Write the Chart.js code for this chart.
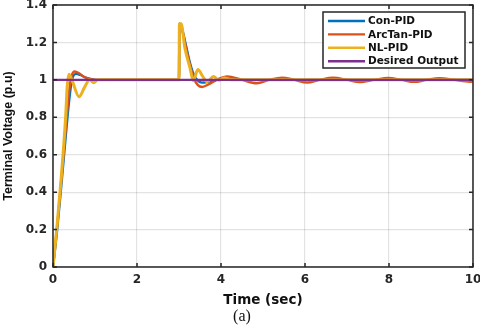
<!DOCTYPE html>
<html lang="en">
<head>
<meta charset="UTF-8">
<title>Terminal Voltage</title>
<script src="https://cdn.jsdelivr.net/npm/chart.js@4.4.1/dist/chart.umd.min.js"></script>
<style>
    body { margin: 0; background: #fff; }
    #wrap { position: relative; width: 480px; height: 330px; }
    #caption { position: absolute; left: 222px; top: 306px; width: 40px; text-align: center;
               font: 16px "Liberation Serif", "Times New Roman", serif; color: #111; line-height: 20px; }
</style>
</head>
<body>
<div id="wrap">
    <canvas id="chart" width="480" height="330"></canvas>
    <div id="caption">(a)</div>
</div>
<script>
// time (sec) and terminal voltage (p.u)
const conTime = [0, 0.1, 0.2, 0.3, 0.38, 0.45, 0.55, 0.65, 0.8, 1.0, 3.0, 3.01, 3.05, 3.15, 3.25, 3.33, 3.45, 3.55, 3.7, 3.9, 10];
const conVolt = [0, 0.2, 0.44, 0.69, 0.88, 1.0, 1.032, 1.026, 1.01, 1.0, 1.0, 1.3, 1.29, 1.2, 1.1, 1.04, 0.995, 0.985, 0.99, 1.0, 1.0];

const arcTime = [0, 0.1, 0.2, 0.3, 0.38, 0.44, 0.52, 0.62, 0.75, 0.9, 1.1, 3.0, 3.01, 3.05, 3.15, 3.25, 3.35, 3.45, 3.55, 3.7, 3.9,
                 4.15, 4.5, 4.85, 5.15, 5.45, 5.75, 6.05, 6.35, 6.67, 7.0, 7.3, 7.65, 7.98, 8.3, 8.6, 8.9, 9.2, 9.55, 9.93, 10];
const arcVolt = [0, 0.22, 0.47, 0.73, 0.93, 1.02, 1.045, 1.035, 1.015, 1.003, 1.0, 1.0, 1.3, 1.29, 1.19, 1.09, 1.01, 0.972, 0.962, 0.975, 1.0,
                 1.018, 1.0, 0.982, 1.0, 1.012, 1.0, 0.986, 1.0, 1.011, 1.0, 0.988, 1.0, 1.01, 1.0, 0.989, 1.0, 1.009, 1.0, 0.99, 0.991];

const nlTime = [0, 0.1, 0.2, 0.3, 0.34, 0.38, 0.45, 0.62, 0.75, 0.87, 0.97, 1.07, 3.0, 3.01, 3.05, 3.14, 3.26, 3.34, 3.45, 3.56, 3.67, 3.82, 3.95, 4.08, 4.25, 10];
const nlVolt = [0, 0.23, 0.49, 0.8, 0.97, 1.03, 1.0, 0.91, 0.96, 1.0, 0.985, 1.0, 1.0, 1.3, 1.3, 1.17, 1.065, 0.995, 1.055, 1.02, 0.99, 1.018, 0.998, 1.01, 1.0, 1.0];

const desTime = [0, 10];
const desVolt = [1, 1];

const seriesNames = ['Con-PID', 'ArcTan-PID', 'NL-PID', 'Desired Output'];
const seriesColors = ['#0072BD', '#D95319', '#EDB120', '#7E2F8E'];
const seriesWidths = [2.4, 2.4, 3, 2.4];

const xTickValues = [0, 2, 4, 6, 8, 10];
const yTickValues = [0, 0.2, 0.4, 0.6, 0.8, 1, 1.2, 1.4];

const AXIS_COLOR = '#262626';
const TICK_FONT = { family: '"DejaVu Sans", sans-serif', size: 12, weight: 'bold' };

function toPoints(ts, vs) {
    return ts.map((t, i) => ({ x: t, y: vs[i] }));
}

const seriesData = [
    toPoints(conTime, conVolt),
    toPoints(arcTime, arcVolt),
    toPoints(nlTime, nlVolt),
    toPoints(desTime, desVolt)
];

// box with inward ticks on all four sides, like a MATLAB axes
const boxPlugin = {
    id: 'matlabBox',
    afterDraw(chart) {
        const { ctx, chartArea: a, scales } = chart;
        const len = 4;
        ctx.save();
        ctx.strokeStyle = AXIS_COLOR;
        ctx.lineWidth = 1.5;
        ctx.strokeRect(a.left, a.top, a.right - a.left, a.bottom - a.top);
        ctx.beginPath();
        xTickValues.forEach(v => {
            const px = scales.x.getPixelForValue(v);
            ctx.moveTo(px, a.bottom); ctx.lineTo(px, a.bottom - len);
            ctx.moveTo(px, a.top); ctx.lineTo(px, a.top + len);
        });
        yTickValues.forEach(v => {
            const py = scales.y.getPixelForValue(v);
            ctx.moveTo(a.left, py); ctx.lineTo(a.left + len, py);
            ctx.moveTo(a.right, py); ctx.lineTo(a.right - len, py);
        });
        ctx.stroke();
        ctx.restore();
    }
};

const legendPlugin = {
    id: 'boxLegend',
    afterDraw(chart) {
        const ctx = chart.ctx;
        const x = 323, y = 12, w = 142, h = 56;
        ctx.save();
        ctx.fillStyle = '#fff';
        ctx.fillRect(x, y, w, h);
        ctx.strokeStyle = AXIS_COLOR;
        ctx.lineWidth = 1.5;
        ctx.strokeRect(x, y, w, h);
        ctx.font = 'bold 10.5px "DejaVu Sans", sans-serif';
        ctx.textBaseline = 'middle';
        chart.data.datasets.forEach((ds, i) => {
            const ly = y + 9 + i * 13.4;
            ctx.strokeStyle = ds.borderColor;
            ctx.lineWidth = 2.4;
            ctx.beginPath();
            ctx.moveTo(x + 5, ly);
            ctx.lineTo(x + 42, ly);
            ctx.stroke();
            ctx.fillStyle = '#111';
            ctx.fillText(ds.label, x + 45, ly + 0.5);
        });
        ctx.restore();
    }
};

new Chart(document.getElementById('chart'), {
    type: 'line',
    data: {
        datasets: seriesNames.map((name, i) => ({
            label: name,
            data: seriesData[i],
            borderColor: seriesColors[i],
            backgroundColor: seriesColors[i],
            borderWidth: seriesWidths[i],
            pointRadius: 0,
            fill: false,
            cubicInterpolationMode: 'monotone',
            order: seriesNames.length - i
        }))
    },
    options: {
        responsive: false,
        devicePixelRatio: 1,
        animation: false,
        layout: { padding: { top: 5, right: 7, left: 0, bottom: 0 } },
        plugins: {
            legend: { display: false },
            tooltip: { enabled: false }
        },
        scales: {
            x: {
                type: 'linear',
                min: 0,
                max: 10,
                afterBuildTicks: s => { s.ticks = xTickValues.map(v => ({ value: v })); },
                afterFit: s => { s.height = 63; s.paddingLeft = 0; s.paddingRight = 7; },
                grid: { color: 'rgba(0,0,0,0.11)', lineWidth: 1.2, drawTicks: false },
                border: { display: false },
                ticks: { color: AXIS_COLOR, font: TICK_FONT, padding: 6, maxRotation: 0 },
                title: {
                    display: true,
                    text: 'Time (sec)',
                    color: '#111',
                    font: { family: '"DejaVu Sans", sans-serif', size: 13.5, weight: 'bold' },
                    padding: { top: 0, bottom: 21.5 }
                }
            },
            y: {
                type: 'linear',
                min: 0,
                max: 1.4,
                afterBuildTicks: s => { s.ticks = yTickValues.map(v => ({ value: v })); },
                afterFit: s => { s.width = 53; s.paddingTop = 5; s.paddingBottom = 0; },
                grid: { color: 'rgba(0,0,0,0.11)', lineWidth: 1.2, drawTicks: false },
                border: { display: false },
                ticks: {
                    color: AXIS_COLOR, font: TICK_FONT, padding: 6,
                    callback: v => String(Number(v.toFixed(1)))
                },
                title: {
                    display: true,
                    text: 'Terminal Voltage (p.u)',
                    color: '#111',
                    font: { family: '"Liberation Sans", Arial, sans-serif', size: 12.5, weight: 'bold' },
                    padding: { top: 1.5, bottom: 0 }
                }
            }
        }
    },
    plugins: [boxPlugin, legendPlugin]
});
</script>
</body>
</html>
